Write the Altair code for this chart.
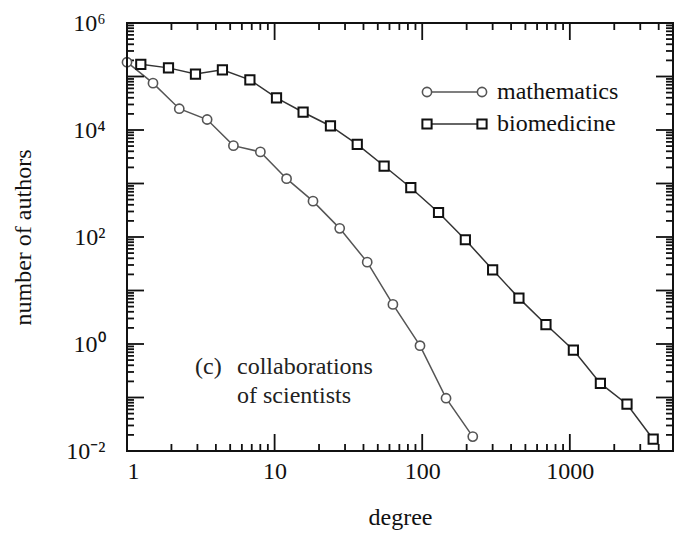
import altair as alt
import pandas as pd

# ---- data ----
math_degree = [1.0, 1.50, 2.26, 3.49, 5.26, 8.01, 12.05, 18.2, 27.6, 42.4, 63.3, 96.6, 145, 220]
math_authors = [1.85e5, 7.5e4, 2.5e4, 1.57e4, 5.1e3, 3.9e3, 1.23e3, 468, 145, 33.9, 5.5, 0.93, 0.097, 0.0186]

bio_degree = [1.24, 1.91, 2.91, 4.43, 6.8, 10.3, 15.6, 23.9, 36.3, 55.2, 83.7, 129, 196, 300,
              452, 689, 1057, 1611, 2440, 3670]
bio_authors = [1.69e5, 1.45e5, 1.11e5, 1.33e5, 8.65e4, 4.0e4, 2.15e4, 1.19e4, 5.4e3, 2.12e3,
               834, 287, 88.8, 24.4, 7.2, 2.31, 0.77, 0.183, 0.075, 0.0166]

x_domain = [1, 5000]
y_domain = [0.01, 1e6]
x_label_values = [1, 10, 100, 1000]
y_label_values = [1e-2, 1, 1e2, 1e4, 1e6]
y_label_texts = ["10\u207b\u00b2", "10\u2070", "10\u00b2", "10\u2074", "10\u2076"]

x_major = [1, 10, 100, 1000]
x_minor = [m * 10 ** k for k in range(0, 4) for m in range(2, 10) if m * 10 ** k < 5000]
y_major = [10.0 ** k for k in range(-2, 7)]
y_minor = [m * 10.0 ** k for k in range(-2, 6) for m in range(2, 10)]

legend_labels = ["mathematics", "biomedicine"]
annotation_lines = ["collaborations", "of scientists"]
x_title = "degree"
y_title = "number of authors"

W, H = 546, 428
FONT = "Liberation Serif"
MATH_COL = "#555555"
BIO_LINE = "#333333"
BIO_COL = "#111111"

xs = alt.Scale(type="log", domain=x_domain, nice=False)
ys = alt.Scale(type="log", domain=y_domain, nice=False)

math_df = pd.DataFrame({"degree": math_degree, "authors": math_authors})
bio_df = pd.DataFrame({"degree": bio_degree, "authors": bio_authors})
dummy = pd.DataFrame({"a": [0]})

# label expression for y axis
expr = "''"
for v, t in zip(y_label_values, y_label_texts):
    expr = f"(datum.value > {v * 0.5} ? '{t}' : {expr})"

x_axis = alt.Axis(values=x_label_values, labelExpr="format(datum.value, 'd')", grid=False,
                  domain=False, ticks=False, tickSize=0, labelFontSize=24, labelColor="#111",
                  labelPadding=8, labelBaseline="top", labelFont=FONT, title=x_title,
                  titleFontSize=24, titleFont=FONT,
                  titleFontWeight="normal", titleColor="#111", titleX=W / 2, titleY=66,
                  titleBaseline="middle", titleAnchor="middle")
y_axis = alt.Axis(values=y_label_values, labelExpr=expr, grid=False, domain=False, ticks=False,
                  tickSize=0, labelFontSize=24, labelColor="#111", labelPadding=22,
                  labelBaseline="middle", labelFont=FONT, title=y_title, titleFontSize=24,
                  titleFont=FONT,
                  titleFontWeight="normal", titleColor="#111", titleX=-104, titleY=H / 2,
                  titleBaseline="middle", titleAngle=270, titleAnchor="middle")


def X(field="degree"):
    return alt.X(f"{field}:Q", scale=xs, axis=x_axis, title=x_title)


def Y(field="authors"):
    return alt.Y(f"{field}:Q", scale=ys, axis=y_axis, title=y_title)


math_line = alt.Chart(math_df).mark_line(color=MATH_COL, strokeWidth=1.5).encode(x=X(), y=Y())
math_pts = alt.Chart(math_df).mark_point(shape="circle", filled=True, fill="white", stroke=MATH_COL,
                                         strokeWidth=1.6, size=85, opacity=1).encode(x=X(), y=Y())
bio_line = alt.Chart(bio_df).mark_line(color=BIO_LINE, strokeWidth=1.5).encode(x=X(), y=Y())
bio_pts = alt.Chart(bio_df).mark_point(shape="square", filled=True, fill="white", stroke=BIO_COL,
                                       strokeWidth=2, size=85, opacity=1).encode(x=X(), y=Y())


# ---- inward ticks on all four sides ----
def xticks(vals, length):
    df = pd.DataFrame({"degree": vals})
    bottom = alt.Chart(df).mark_rule(color="#111", strokeWidth=1.8).encode(
        x=X(), y=alt.value(H), y2=alt.value(H - length))
    top = alt.Chart(df).mark_rule(color="#111", strokeWidth=1.8).encode(
        x=X(), y=alt.value(0), y2=alt.value(length))
    return [bottom, top]


def yticks(vals, length):
    df = pd.DataFrame({"authors": vals})
    left = alt.Chart(df).mark_rule(color="#111", strokeWidth=1.8).encode(
        y=Y(), x=alt.value(0), x2=alt.value(length))
    right = alt.Chart(df).mark_rule(color="#111", strokeWidth=1.8).encode(
        y=Y(), x=alt.value(W), x2=alt.value(W - length))
    return [left, right]


tick_layers = xticks(x_major, 17) + xticks(x_minor, 7) + yticks(y_major, 17) + yticks(y_minor, 7)


# ---- legend ----
def legend_row(yp, shape, stroke, line_col, label, sw):
    ln = alt.Chart(dummy).mark_rule(color=line_col, strokeWidth=1.5).encode(
        x=alt.value(300), x2=alt.value(355), y=alt.value(yp))
    p1 = alt.Chart(dummy).mark_point(shape=shape, filled=True, fill="white", stroke=stroke,
                                     strokeWidth=sw, size=85, opacity=1).encode(
        x=alt.value(300), y=alt.value(yp))
    p2 = alt.Chart(dummy).mark_point(shape=shape, filled=True, fill="white", stroke=stroke,
                                     strokeWidth=sw, size=85, opacity=1).encode(
        x=alt.value(355), y=alt.value(yp))
    tx = alt.Chart(dummy).mark_text(align="left", baseline="middle", fontSize=24, font=FONT,
                                    color="#111").encode(
        x=alt.value(370), y=alt.value(yp), text=alt.value(label))
    return [ln, p1, p2, tx]


legend_layers = legend_row(69, "circle", MATH_COL, MATH_COL, legend_labels[0], 1.6) + \
    legend_row(101, "square", BIO_COL, BIO_LINE, legend_labels[1], 2)


# ---- annotation ----
def note(xp, yp, txt):
    return alt.Chart(dummy).mark_text(align="left", baseline="middle", fontSize=24, font=FONT,
                                      color="#222").encode(x=alt.value(xp), y=alt.value(yp),
                                                           text=alt.value(txt))


ann = [note(68, 344, "(c)"), note(110, 344, annotation_lines[0]), note(110, 373, annotation_lines[1])]

# frame on top of everything
frame = alt.Chart(dummy).mark_rect(fill=None, stroke="#111", strokeWidth=2).encode(
    x=alt.value(0), x2=alt.value(W), y=alt.value(0), y2=alt.value(H))

chart = alt.layer(
    math_line, *tick_layers, bio_line, math_pts, bio_pts, *legend_layers, *ann, frame
).properties(
    width=W, height=H,
    autosize=alt.AutoSizeParams(type="none"),
    padding={"left": 119, "top": 15, "right": 2, "bottom": 81},
    background="white",
).configure(
    font=FONT
).configure_view(
    stroke="#111", strokeWidth=2, fill="white"
)

chart.save("out.html", embed_options={"renderer": "svg", "actions": False})
